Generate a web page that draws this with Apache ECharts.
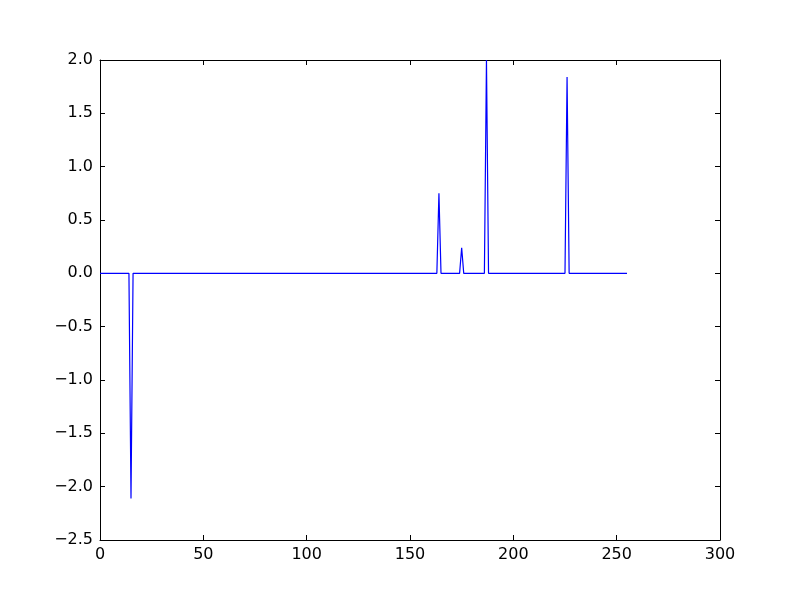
<!DOCTYPE html>
<html>
<head>
<meta charset="utf-8">
<script src="https://cdn.jsdelivr.net/npm/echarts@6/dist/echarts.min.js"></script>
<style>html,body{margin:0;padding:0;background:#fff}#c{width:800px;height:600px}</style>
</head>
<body>
<div id="c"></div>
<script>
// Vertices of the line (x index, value); all other points are 0
const xValues = [0, 14, 15, 16, 163, 164, 165, 174, 175, 176, 186, 187, 188, 225, 226, 227, 255];
const yValues = [0, 0, -2.11, 0, 0, 0.75, 0, 0, 0.24, 0, 0, 2.0, 0, 0, 1.84, 0, 0];
const xTicks = [0, 50, 100, 150, 200, 250, 300];
const yTicks = [-2.5, -2.0, -1.5, -1.0, -0.5, 0.0, 0.5, 1.0, 1.5, 2.0];

const chart = echarts.init(document.getElementById('c'), null, {renderer: 'canvas'});
const font = {fontFamily: 'DejaVu Sans', fontSize: 16, color: '#000'};
const axisLine = {show: true, onZero: false, lineStyle: {color: '#000', width: 1}};
const tick = {show: true, inside: true, length: 5, lineStyle: {color: '#000', width: 1}};
chart.setOption({
  animation: false,
  grid: {left: 100, right: 80, top: 60, bottom: 60, containLabel: false},
  xAxis: [
    {type: 'value', min: xTicks[0], max: xTicks[xTicks.length-1], interval: 50,
     axisLine, axisTick: tick, splitLine: {show: false},
     axisLabel: Object.assign({margin: 7}, font)},
    {type: 'value', position: 'top', min: xTicks[0], max: xTicks[xTicks.length-1], interval: 50,
     axisLine, axisTick: tick, splitLine: {show: false}, axisLabel: {show: false}}
  ],
  yAxis: [
    {type: 'value', min: yTicks[0], max: yTicks[yTicks.length-1], interval: 0.5,
     axisLine, axisTick: tick, splitLine: {show: false},
     axisLabel: Object.assign({margin: 7, formatter: v => (v < 0 ? '\u2212' : '') + Math.abs(v).toFixed(1)}, font)},
    {type: 'value', position: 'right', min: yTicks[0], max: yTicks[yTicks.length-1], interval: 0.5,
     axisLine, axisTick: tick, splitLine: {show: false}, axisLabel: {show: false}}
  ],
  series: [{
    type: 'line',
    data: xValues.map((x, i) => [x, yValues[i]]),
    showSymbol: false,
    symbol: 'none',
    lineStyle: {color: '#0000ff', width: 1.2},
    clip: false
  }]
});
</script>
</body>
</html>
